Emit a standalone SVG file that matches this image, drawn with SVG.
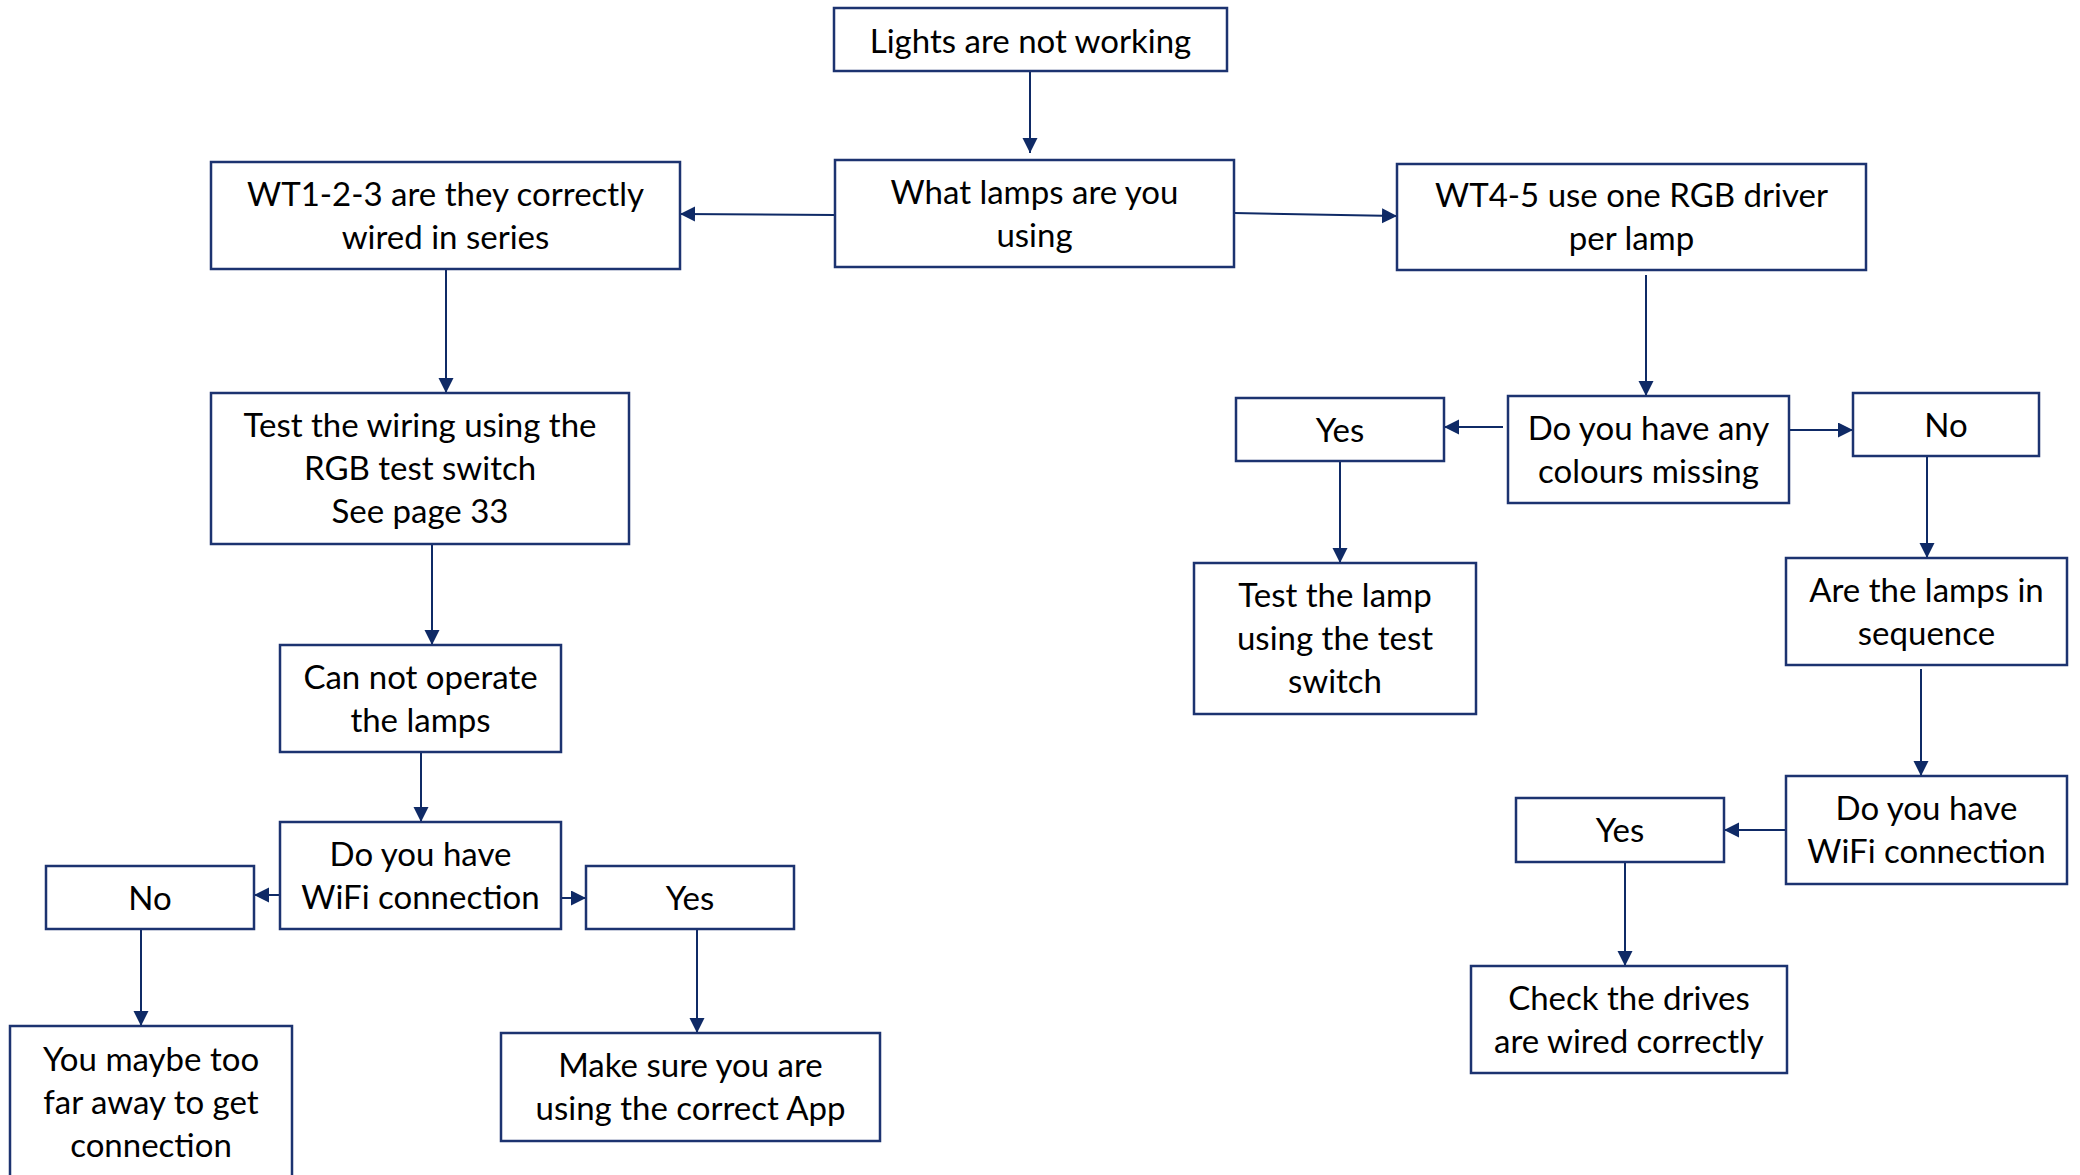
<svg xmlns="http://www.w3.org/2000/svg" width="2080" height="1175" viewBox="0 0 2080 1175">
<defs>
<marker id="ah" markerUnits="userSpaceOnUse" markerWidth="16" markerHeight="16" refX="15" refY="7.5" orient="auto">
<path d="M0,0 L15,7.5 L0,15 Z" fill="#0f2a66"/>
</marker>
<style>
.box{fill:#fff;stroke:#1c3370;stroke-width:2.5}
.t{font-family:Lato,"Liberation Sans",sans-serif;font-size:33px;fill:#000;text-anchor:middle}
.c{stroke:#0f2a66;stroke-width:2;fill:none;marker-end:url(#ah)}
</style>
</defs>
<rect width="2080" height="1175" fill="#fff"/>
<g id="connectors">
<line class="c" x1="1030" y1="71" x2="1030" y2="153"/>
<line class="c" x1="835" y1="215" x2="680" y2="214"/>
<line class="c" x1="1234" y1="213" x2="1397" y2="216"/>
<line class="c" x1="446" y1="269" x2="446" y2="393"/>
<line class="c" x1="432" y1="544" x2="432" y2="645"/>
<line class="c" x1="421" y1="752" x2="421" y2="822"/>
<line class="c" x1="282" y1="895" x2="254" y2="895"/>
<line class="c" x1="561" y1="898" x2="586" y2="898"/>
<line class="c" x1="141" y1="929" x2="141" y2="1026"/>
<line class="c" x1="697" y1="930" x2="697" y2="1033"/>
<line class="c" x1="1646" y1="275" x2="1646" y2="396"/>
<line class="c" x1="1503" y1="427" x2="1444" y2="427"/>
<line class="c" x1="1789" y1="430" x2="1853" y2="430"/>
<line class="c" x1="1340" y1="461" x2="1340" y2="563"/>
<line class="c" x1="1927" y1="456" x2="1927" y2="558"/>
<line class="c" x1="1921" y1="669" x2="1921" y2="776"/>
<line class="c" x1="1788" y1="830" x2="1724" y2="830"/>
<line class="c" x1="1625" y1="862" x2="1625" y2="966"/>
</g>
<g id="n1"><rect class="box" x="834" y="8" width="393" height="63"/><text class="t" x="1030.5" y="53">Lights are not working</text></g>
<g id="n2"><rect class="box" x="835" y="160" width="399" height="107"/><text class="t" x="1034.5" y="204">What lamps are you</text><text class="t" x="1034.5" y="247">using</text></g>
<g id="n3"><rect class="box" x="211" y="162" width="469" height="107"/><text class="t" x="445.5" y="206">WT1-2-3 are they correctly</text><text class="t" x="445.5" y="249">wired in series</text></g>
<g id="n4"><rect class="box" x="1397" y="164" width="469" height="106"/><text class="t" x="1631.5" y="207">WT4-5 use one RGB driver</text><text class="t" x="1631.5" y="250">per lamp</text></g>
<g id="n5"><rect class="box" x="211" y="393" width="418" height="151"/><text class="t" x="420" y="437">Test the wiring using the</text><text class="t" x="420" y="480">RGB test switch</text><text class="t" x="420" y="523">See page 33</text></g>
<g id="n6"><rect class="box" x="280" y="645" width="281" height="107"/><text class="t" x="420.5" y="689">Can not operate</text><text class="t" x="420.5" y="732">the lamps</text></g>
<g id="n7"><rect class="box" x="280" y="822" width="281" height="107"/><text class="t" x="420.5" y="866">Do you have</text><text class="t" x="420.5" y="909">WiFi connection</text></g>
<g id="n8"><rect class="box" x="46" y="866" width="208" height="63"/><text class="t" x="150" y="910">No</text></g>
<g id="n9"><rect class="box" x="586" y="866" width="208" height="63"/><text class="t" x="690" y="910">Yes</text></g>
<g id="n10"><rect class="box" x="10" y="1026" width="282" height="151"/><text class="t" x="151" y="1071">You maybe too</text><text class="t" x="151" y="1114">far away to get</text><text class="t" x="151" y="1157">connection</text></g>
<g id="n11"><rect class="box" x="501" y="1033" width="379" height="108"/><text class="t" x="690.5" y="1077">Make sure you are</text><text class="t" x="690.5" y="1120">using the correct App</text></g>
<g id="n12"><rect class="box" x="1508" y="396" width="281" height="107"/><text class="t" x="1648.5" y="440">Do you have any</text><text class="t" x="1648.5" y="483">colours missing</text></g>
<g id="n13"><rect class="box" x="1236" y="398" width="208" height="63"/><text class="t" x="1340" y="442">Yes</text></g>
<g id="n14"><rect class="box" x="1853" y="393" width="186" height="63"/><text class="t" x="1946" y="437">No</text></g>
<g id="n15"><rect class="box" x="1194" y="563" width="282" height="151"/><text class="t" x="1335" y="607">Test the lamp</text><text class="t" x="1335" y="650">using the test</text><text class="t" x="1335" y="693">switch</text></g>
<g id="n16"><rect class="box" x="1786" y="558" width="281" height="107"/><text class="t" x="1926.5" y="602">Are the lamps in</text><text class="t" x="1926.5" y="645">sequence</text></g>
<g id="n17"><rect class="box" x="1786" y="776" width="281" height="108"/><text class="t" x="1926.5" y="820">Do you have</text><text class="t" x="1926.5" y="863">WiFi connection</text></g>
<g id="n18"><rect class="box" x="1516" y="798" width="208" height="64"/><text class="t" x="1620" y="842">Yes</text></g>
<g id="n19"><rect class="box" x="1471" y="966" width="316" height="107"/><text class="t" x="1629" y="1010">Check the drives</text><text class="t" x="1629" y="1053">are wired correctly</text></g>
</svg>
